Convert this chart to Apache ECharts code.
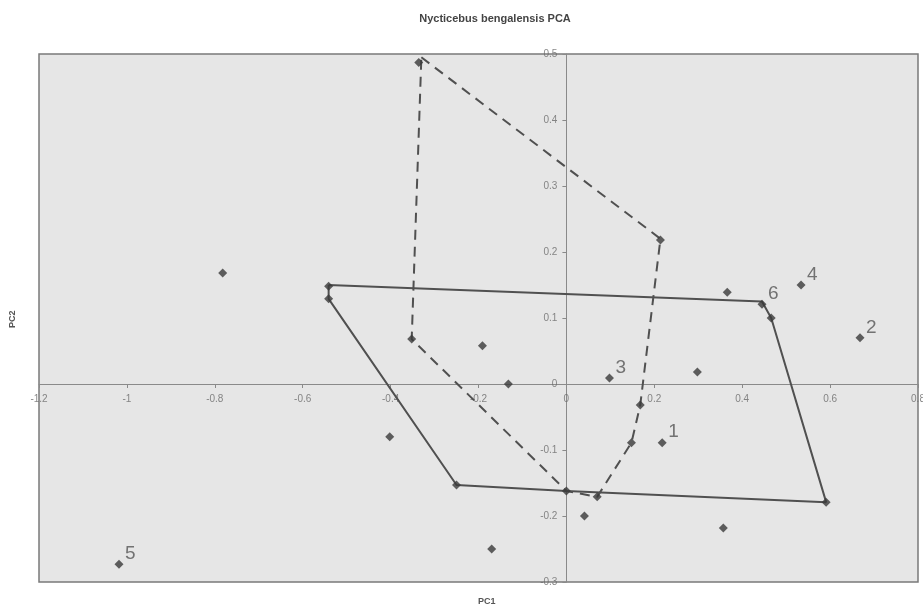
<!DOCTYPE html>
<html>
<head>
<meta charset="utf-8">
<script src="https://cdn.jsdelivr.net/npm/echarts@6/dist/echarts.min.js"></script>
<style>
  html, body { margin: 0; padding: 0; background: #fff; }
  #chart { width: 923px; height: 611px; }
</style>
</head>
<body>
<div id="chart"></div>
<script>
// PC1 / PC2 scores of all specimens
var pcPoints = [
    [-0.336, 0.487], [-0.782, 0.168], [-0.541, 0.148], [-0.541, 0.129],
    [-0.352, 0.068], [-0.191, 0.058], [-0.132, 0.0], [-0.402, -0.080],
    [-0.25, -0.153], [0, -0.162], [0.070, -0.171], [0.041, -0.2],
    [-0.170, -0.25], [-1.018, -0.273], [0.098, 0.009], [0.168, -0.032],
    [0.148, -0.089], [0.218, -0.089], [0.298, 0.018], [0.366, 0.139],
    [0.445, 0.121], [0.466, 0.100], [0.534, 0.150], [0.668, 0.070],
    [0.591, -0.179], [0.357, -0.218], [0.214, 0.218]
];
// numbered specimens
var labelPoints = [
    [0.218, -0.089, '1'], [0.668, 0.070, '2'], [0.098, 0.009, '3'],
    [0.534, 0.150, '4'], [-1.018, -0.273, '5'], [0.445, 0.121, '6']
];
// solid hull
var solidHull = [
    [-0.541, 0.150], [0.445, 0.125], [0.466, 0.100], [0.591, -0.179],
    [0, -0.162], [-0.25, -0.153], [-0.541, 0.129], [-0.541, 0.150]
];
// dashed hull
var dashedHull = [
    [-0.33, 0.495], [0.214, 0.220], [0.168, -0.032], [0.148, -0.089],
    [0.070, -0.171], [0, -0.162], [-0.352, 0.068], [-0.33, 0.495]
];
// tick labels, drawn on the zero lines
var xTickLabels = ['-1.2', '-1', '-0.8', '-0.6', '-0.4', '-0.2', '0', '0.2', '0.4', '0.6', '0.8'];
var yTickLabels = ['-0.3', '-0.2', '-0.1', '0', '0.1', '0.2', '0.3', '0.4', '0.5'];

var myChart = echarts.init(document.getElementById('chart'));
var axisColor = '#8a8a8a';
var textColor = '#6a6a6a';
var font = 'Liberation Sans';
var option = {
    backgroundColor: '#ffffff',
    animation: false,
    title: {
        text: 'Nycticebus bengalensis PCA',
        left: 490,
        top: 8,
        textAlign: 'center',
        textStyle: { fontFamily: font, fontSize: 11, fontWeight: 'bold', color: '#444' }
    },
    graphic: [{
        type: 'text', left: 478, top: 597,
        style: { text: 'PC1', font: 'bold 9px Liberation Sans', fill: '#555' }
    }, {
        type: 'text', x: 8, y: 328, rotation: Math.PI / 2,
        style: { text: 'PC2', font: 'bold 9px Liberation Sans', fill: '#555' }
    }],
    grid: {
        left: 39, right: 5, top: 54, bottom: 29,
        containLabel: false,
        outerBoundsMode: 'none',
        show: true,
        backgroundColor: '#e6e6e6',
        borderColor: '#7a7a7a',
        borderWidth: 1.5
    },
    xAxis: {
        type: 'value',
        min: -1.2, max: 0.8, interval: 0.2,
        axisLine: { onZero: true, lineStyle: { color: axisColor, width: 1 } },
        axisTick: { show: true, length: 4, lineStyle: { color: axisColor } },
        axisLabel: { show: false },
        splitLine: { show: false }
    },
    yAxis: {
        type: 'value',
        min: -0.3, max: 0.5, interval: 0.1,
        axisLine: { onZero: true, lineStyle: { color: axisColor, width: 1 } },
        axisTick: { show: true, length: 4, lineStyle: { color: axisColor } },
        axisLabel: { show: false },
        splitLine: { show: false }
    },
    series: [{
        type: 'line',
        data: solidHull,
        symbol: 'none',
        lineStyle: { color: '#505050', width: 2 },
        z: 2
    }, {
        type: 'line',
        data: dashedHull,
        symbol: 'none',
        lineStyle: { color: '#505050', width: 2, type: [10, 7] },
        z: 2
    }, {
        type: 'scatter',
        data: pcPoints,
        symbol: 'diamond',
        symbolSize: 9,
        itemStyle: { color: '#3a3a3a' },
        z: 3
    }, {
        type: 'scatter',
        data: labelPoints.map(function(p) { return { value: [p[0], p[1]], name: p[2] }; }),
        symbolSize: 0,
        silent: true,
        label: {
            show: true,
            position: [6, -20],
            formatter: function(p) { return p.name; },
            fontFamily: font,
            fontSize: 19,
            color: '#555'
        },
        z: 4
    }, {
        type: 'scatter',
        data: xTickLabels.map(function(t) { return { value: [parseFloat(t), 0], name: t }; }),
        symbolSize: 0,
        silent: true,
        label: {
            show: true, position: 'bottom', distance: 10,
            formatter: function(p) { return p.name; },
            fontFamily: font, fontSize: 10, color: textColor
        },
        z: 1
    }, {
        type: 'scatter',
        data: yTickLabels.map(function(t) { return { value: [0, parseFloat(t)], name: t }; }),
        symbolSize: 0,
        silent: true,
        label: {
            show: true, position: 'left', distance: 9,
            formatter: function(p) { return p.name; },
            fontFamily: font, fontSize: 10, color: textColor
        },
        z: 1
    }]
};
myChart.setOption(option);
</script>
</body>
</html>
